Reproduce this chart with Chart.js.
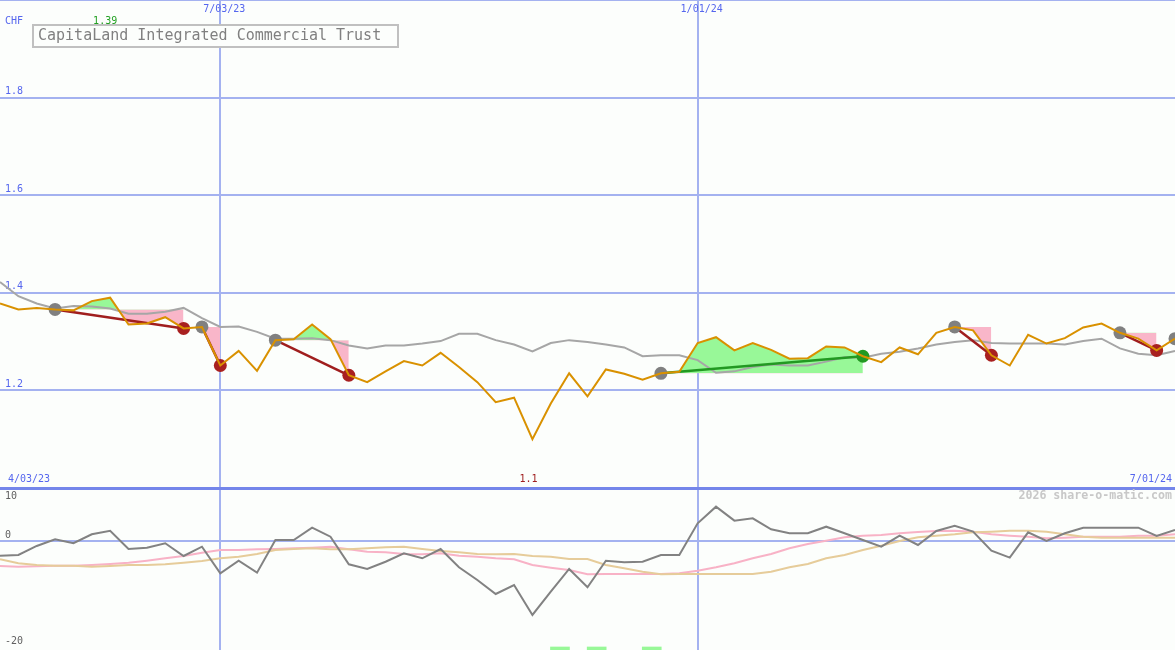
<!DOCTYPE html>
<html>
<head>
<meta charset="utf-8">
<title>CapitaLand Integrated Commercial Trust</title>
<script src="https://cdn.jsdelivr.net/npm/chart.js@4.4.1/dist/chart.umd.min.js"></script>
<style>
  html, body { margin: 0; padding: 0; background: #fcfefc; }
  #wrap { position: relative; width: 1175px; height: 650px; overflow: hidden; }
  canvas { position: absolute; left: 0; display: block; }
  #priceChart { top: 0; }
  #oscChart { top: 488px; }
</style>
</head>
<body>
<div id="wrap">
  <canvas id="priceChart" width="1175" height="488"></canvas>
  <canvas id="oscChart" width="1175" height="162"></canvas>
</div>
<script>
// ---- data (weekly, index 0 = first week on the chart) ----
const title = 'CapitaLand Integrated Commercial Trust';
const currency = 'CHF';
const dateTickIdx = [12, 38];
const dateTickText = ['7/03/23', '1/01/24'];
const startText = '4/03/23';
const endText = '7/01/24';
const priceTicks = [1.2, 1.4, 1.6, 1.8];
const oscTicks = [10, 0, -20];

const price = [1.378, 1.366, 1.369, 1.366, 1.364, 1.383, 1.390, 1.335, 1.337, 1.350,
  1.327, 1.330, 1.251, 1.281, 1.240, 1.303, 1.305, 1.335, 1.305, 1.231,
  1.217, 1.239, 1.260, 1.251, 1.277, 1.248, 1.217, 1.176, 1.185, 1.100,
  1.173, 1.235, 1.188, 1.243, 1.234, 1.222, 1.235, 1.238, 1.297, 1.309,
  1.282, 1.297, 1.283, 1.265, 1.266, 1.290, 1.288, 1.270, 1.258, 1.288,
  1.274, 1.318, 1.330, 1.323, 1.272, 1.251, 1.314, 1.296, 1.307, 1.329,
  1.337, 1.318, 1.306, 1.282, 1.306];

const priceAvg = [1.422, 1.393, 1.378, 1.368, 1.373, 1.372, 1.368, 1.357, 1.357, 1.361,
  1.369, 1.348, 1.330, 1.331, 1.320, 1.306, 1.306, 1.307, 1.303, 1.292,
  1.286, 1.292, 1.292, 1.296, 1.301, 1.316, 1.316, 1.303, 1.294, 1.280,
  1.297, 1.303, 1.299, 1.294, 1.288, 1.270, 1.272, 1.272, 1.262, 1.236,
  1.239, 1.248, 1.253, 1.251, 1.251, 1.259, 1.268, 1.267, 1.275, 1.279,
  1.286, 1.294, 1.299, 1.303, 1.297, 1.296, 1.296, 1.296, 1.294, 1.301,
  1.306, 1.286, 1.275, 1.272, 1.281];

const osc = [-2.77, -2.64, -0.94, 0.32, -0.43, 1.26, 1.94, -1.51, -1.26, -0.43,
  -2.83, -1.08, -6.09, -3.72, -5.98, 0.19, 0.19, 2.51, 0.81, -4.40,
  -5.28, -3.91, -2.33, -3.26, -1.51, -4.97, -7.36, -10.0, -8.30, -13.96,
  -9.56, -5.28, -8.74, -3.72, -4.03, -3.91, -2.64, -2.64, 3.33, 6.48,
  3.84, 4.28, 2.20, 1.45, 1.45, 2.70, 1.45, 0.19, -1.08, 1.01,
  -0.75, 1.89, 2.89, 1.76, -1.82, -3.14, 1.63, 0.0, 1.45, 2.51,
  2.51, 2.51, 2.51, 0.94, 2.08];

const oscPink = [-4.72, -4.84, -4.78, -4.65, -4.65, -4.53, -4.34, -4.09, -3.71, -3.27,
  -2.83, -2.20, -1.70, -1.70, -1.57, -1.51, -1.38, -1.26, -1.07, -1.57,
  -2.01, -2.14, -2.45, -2.52, -2.33, -2.77, -2.96, -3.27, -3.46, -4.53,
  -5.03, -5.47, -6.29, -6.23, -6.23, -6.23, -6.23, -6.10, -5.60, -4.97,
  -4.21, -3.27, -2.45, -1.38, -0.57, 0.06, 0.69, 1.01, 1.13, 1.45,
  1.70, 1.89, 1.95, 1.76, 1.26, 1.01, 0.82, 0.50, 0.63, 0.82,
  0.82, 0.82, 1.01, 1.01, 1.26];

const oscTan = [-3.46, -4.21, -4.53, -4.65, -4.65, -4.84, -4.72, -4.53, -4.53, -4.40,
  -4.09, -3.77, -3.27, -2.96, -2.45, -1.70, -1.51, -1.38, -1.57, -1.57,
  -1.38, -1.19, -1.07, -1.51, -1.89, -2.14, -2.45, -2.52, -2.45, -2.83,
  -2.96, -3.40, -3.40, -4.53, -5.16, -5.79, -6.29, -6.23, -6.23, -6.23,
  -6.23, -6.23, -5.79, -4.97, -4.34, -3.27, -2.64, -1.70, -0.88, 0.00,
  0.69, 1.01, 1.26, 1.63, 1.76, 1.95, 1.95, 1.76, 1.26, 0.82,
  0.63, 0.63, 0.63, 0.63, 0.63];

// trades: entry week and exit week (null = still open)
const entryIdx = [3, 11, 15, 36, 52, 61, 64];
const exitIdx = [10, 12, 19, 47, 54, 63, null];
const signalIdx = [30, 32, 35];

// ---- colours ----
const GRID = '#a4b2f0';
const SEP = '#7486ea';
const TEXT_BLUE = '#5566ee';
const FONT = '"DejaVu Sans Mono", "Liberation Mono", monospace';

const pts = arr => arr.map((y, i) => ({ x: i, y }));
const last = price.length - 1;

const priceSets = [{
  label: 'price', data: pts(price), borderColor: '#d99100', borderWidth: 2,
  pointRadius: 0, tension: 0, order: 0
}, {
  label: 'average', data: pts(priceAvg), borderColor: '#a6a6a6', borderWidth: 2,
  pointRadius: 0, tension: 0, order: 2
}];

entryIdx.forEach((e, k) => {
  const x = exitIdx[k];
  const win = x !== null && price[x] > price[e];
  const legs = x === null ? [e] : [e, x];
  priceSets.push({
    label: 'trade ' + (k + 1),
    data: legs.map(i => ({ x: i, y: price[i] })),
    borderColor: win ? '#229922' : '#a01e1e', borderWidth: 2.5,
    pointRadius: 6.5, pointBorderWidth: 0,
    pointBackgroundColor: legs.map((i, j) => j === 0 ? '#808080' : (win ? '#229922' : '#a82020')),
    order: 1
  });
  if (x !== null) {
    priceSets.push({
      label: 'gain ' + (k + 1),
      data: price.slice(e, x + 1).map((y, j) => ({ x: e + j, y })),
      borderColor: 'rgba(0,0,0,0)', borderWidth: 1, pointRadius: 0,
      fill: { target: { value: price[e] }, above: '#98f898', below: '#f9b6c9' },
      order: 3
    });
  }
});

const maxIdx = price.indexOf(Math.max(...price));
const minIdx = price.indexOf(Math.min(...price));
const fmt = v => String(Number(v.toFixed(2)));

const priceText = {
  id: 'priceText',
  beforeDatasetsDraw(chart) {
    const { ctx, scales: { y } } = chart;
    ctx.save();
    ctx.font = '10px ' + FONT;
    ctx.fillStyle = TEXT_BLUE;
    ctx.textBaseline = 'middle';
    priceTicks.forEach(v => ctx.fillText(v.toFixed(1), 5, y.getPixelForValue(v) - 6));
    ctx.restore();
  },
  afterDraw(chart) {
    const { ctx, scales: { x, y } } = chart;
    ctx.save();
    ctx.textBaseline = 'middle';
    // legend box
    ctx.fillStyle = '#fcfefc';
    ctx.fillRect(33, 25, 365, 22);
    ctx.strokeStyle = '#c0c0c0';
    ctx.lineWidth = 2;
    ctx.strokeRect(33, 25, 365, 22);
    ctx.font = '15px ' + FONT;
    ctx.fillStyle = '#808080';
    ctx.fillText(title, 38, 36);

    ctx.font = '10px ' + FONT;
    ctx.fillStyle = TEXT_BLUE;
    ctx.fillText(currency, 5, 21);
    ctx.textAlign = 'center';
    dateTickIdx.forEach((v, k) => ctx.fillText(dateTickText[k], x.getPixelForValue(v) + 4, 9));
    ctx.textAlign = 'left';
    ctx.fillText(startText, 8, 479);
    ctx.textAlign = 'right';
    ctx.fillText(endText, 1172, 479);
    ctx.textAlign = 'center';
    ctx.fillStyle = '#22a022';
    ctx.fillText(fmt(price[maxIdx]), x.getPixelForValue(maxIdx) - 5, 21);
    ctx.fillStyle = '#a01e1e';
    ctx.fillText(fmt(price[minIdx]), x.getPixelForValue(minIdx) - 4, 479);
    ctx.restore();
  }
};

const baseX = {
  type: 'linear', min: 0, max: last, offset: false,
  afterBuildTicks: s => { s.ticks = dateTickIdx.map(v => ({ value: v })); },
  ticks: { display: false }, border: { display: false },
  grid: { color: GRID, lineWidth: 2, drawTicks: false, offset: false }
};

new Chart(document.getElementById('priceChart'), {
  type: 'line',
  data: { datasets: priceSets },
  options: {
    responsive: false, animation: false, events: [],
    layout: { padding: 0, autoPadding: false },
    plugins: { legend: { display: false }, tooltip: { enabled: false } },
    scales: {
      x: baseX,
      y: {
        min: 1, max: 2,
        afterBuildTicks: s => { s.ticks = [1, ...priceTicks, 2].map(v => ({ value: v })); },
        ticks: { display: false }, border: { display: false },
        grid: {
          drawTicks: false,
          color: c => c.tick.value === 1 ? SEP : GRID,
          lineWidth: c => c.tick.value === 1 ? 3 : 2
        }
      }
    }
  },
  plugins: [priceText]
});

const oscText = {
  id: 'oscText',
  afterDraw(chart) {
    const { ctx, scales: { y } } = chart;
    ctx.save();
    ctx.textBaseline = 'middle';
    ctx.font = '10px ' + FONT;
    ctx.fillStyle = '#606060';
    oscTicks.forEach(v => {
      const py = y.getPixelForValue(v);
      ctx.fillText(String(v), 5, v === oscTicks[0] ? py + 8 : py - 6);
    });
    ctx.font = 'bold 11.6px ' + FONT;
    ctx.fillStyle = '#c8c8c8';
    ctx.textAlign = 'right';
    ctx.fillText('2026 share-o-matic.com', 1172, 8);
    ctx.restore();
  }
};

new Chart(document.getElementById('oscChart'), {
  type: 'line',
  data: {
    datasets: [{
      label: 'momentum', data: pts(osc), borderColor: '#828282', borderWidth: 2,
      pointRadius: 0, tension: 0, order: 0
    }, {
      label: 'fast', data: pts(oscPink), borderColor: '#f8b2c6', borderWidth: 2,
      pointRadius: 0, tension: 0, order: 2
    }, {
      label: 'slow', data: pts(oscTan), borderColor: '#e6cc9a', borderWidth: 2,
      pointRadius: 0, tension: 0, order: 1
    }, {
      type: 'bar', label: 'signal',
      data: signalIdx.map(i => ({ x: i + 0.5, y: [-22, -20] })),
      backgroundColor: '#98f898', barThickness: 19, order: 3
    }]
  },
  options: {
    responsive: false, animation: false, events: [],
    layout: { padding: 0, autoPadding: false },
    plugins: { legend: { display: false }, tooltip: { enabled: false } },
    scales: {
      x: baseX,
      y: {
        min: -20.57, max: 10,
        afterBuildTicks: s => { s.ticks = [10, 0].map(v => ({ value: v })); },
        ticks: { display: false }, border: { display: false },
        grid: {
          drawTicks: false,
          color: c => c.tick.value === 10 ? SEP : GRID,
          lineWidth: c => c.tick.value === 10 ? 3 : 2
        }
      }
    }
  },
  plugins: [oscText]
});
</script>
</body>
</html>
